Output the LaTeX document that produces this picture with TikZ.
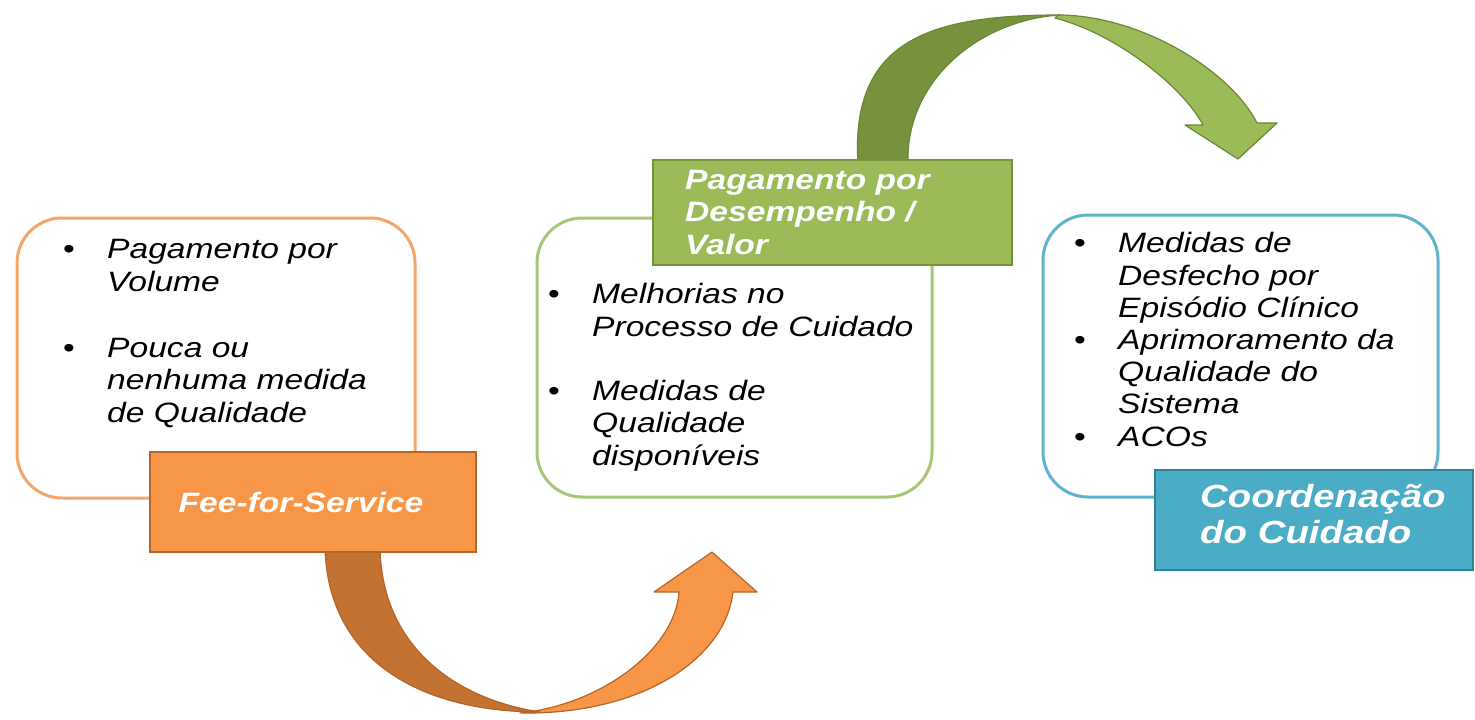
\documentclass[tikz,border=0pt]{standalone}
\usepackage{fontspec}
\newfontfamily\af[FakeStretch=1.2]{Liberation Sans}
\definecolor{olight}{HTML}{F79646}
\definecolor{odark}{HTML}{C47232}
\definecolor{oborder}{HTML}{B5652A}
\definecolor{ostroke}{HTML}{F3A56A}
\definecolor{glight}{HTML}{9BBB59}
\definecolor{gdark}{HTML}{76923C}
\definecolor{gborder}{HTML}{6A8733}
\definecolor{gstroke}{HTML}{A8C675}
\definecolor{blight}{HTML}{4BACC6}
\definecolor{bborder}{HTML}{2F849C}
\definecolor{bstroke}{HTML}{61B3CB}
\newcommand{\bl}[1]{\makebox[44pt][l]{\upshape •}#1}
\newcommand{\ind}{\hspace*{44pt}}
\tikzset{
  rbox/.style={draw, line width=3pt, rounded corners=45pt, fill=white, inner sep=0pt},
  lab/.style={draw, line width=2pt, inner sep=0pt},
  body/.style={anchor=base west, inner sep=0pt, align=left, text=black,
    font=\af\itshape\fontsize{28}{32.3}\selectfont},
  head/.style={inner sep=0pt, text=white, font=\af\bfseries\itshape\fontsize{28}{32.5}\selectfont},
  ribbon/.style={line width=1.2pt, line join=round}
}
\begin{document}
\begin{tikzpicture}[x=1pt,y=-1pt]
\useasboundingbox[fill=white] (0,0) rectangle (1475,720);
% orange arrow
\fill[olight, draw=oborder, ribbon] (520,713) .. controls (640,715) and (725,660) .. (733,592)
  -- (757,592) -- (712,552) -- (654,592) -- (679,592)
  .. controls (675,650) and (600,705) .. (520,713) -- cycle;
\fill[odark, draw=oborder, ribbon] (325,548) .. controls (328,660) and (420,712) .. (540,712)
  .. controls (460,700) and (382,650) .. (380,548) -- cycle;
% green arrow
\fill[glight, draw=gborder, ribbon] (1058,15) .. controls (1140,15) and (1230,70) .. (1257,123)
  -- (1277,123) -- (1238,159) -- (1185,125) -- (1203,125)
  .. controls (1185,90) and (1120,35) .. (1055,18) -- cycle;
\fill[gdark, draw=gborder, ribbon] (858,164) .. controls (850,40) and (930,15) .. (1060,15)
  .. controls (980,20) and (905,80) .. (908,164) -- cycle;
% rounded boxes
\node[rbox, draw=ostroke, minimum width=398pt, minimum height=280pt] (vol) at (216,358) {};
\node[rbox, draw=gstroke, minimum width=395pt, minimum height=279pt] (des) at (734.5,357.5) {};
\node[rbox, draw=bstroke, minimum width=395pt, minimum height=282pt] (coo) at (1240.5,356) {};
% labels
\node[lab, fill=olight, draw=oborder, minimum width=326pt, minimum height=100pt] (fee) at (313,502) {};
\node[lab, fill=glight, draw=gdark, minimum width=359pt, minimum height=105pt] (pag) at (832.5,212.5) {};
\node[lab, fill=blight, draw=bborder, minimum width=318pt, minimum height=100pt] (cc) at (1314,520) {};
\node[head, anchor=base] (feet) at (301,512) {Fee-for-Service};
\node[head, anchor=base west, align=left] (pagt) at (685,254) {Pagamento por\\Desempenho /\\Valor};
\node[head, anchor=base west, align=left, font=\af\bfseries\itshape\fontsize{32}{36}\selectfont] (cct) at (1200,543) {Coordenação\\do Cuidado};
% body texts (anchored at the baseline of the last line)
\node[body] (volt) at (63,422) {\bl{Pagamento por}\\\ind Volume\\[34pt]\bl{Pouca ou}\\\ind nenhuma medida\\\ind de Qualidade};
\node[body] (dest) at (548,465) {\bl{Melhorias no}\\\ind Processo de Cuidado\\[32pt]\bl{Medidas de}\\\ind Qualidade\\\ind disponíveis};
\node[body, font=\af\itshape\fontsize{28}{32.2}\selectfont] (coot) at (1074,446) {\bl{Medidas de}\\\ind Desfecho por\\\ind Episódio Clínico\\\bl{Aprimoramento da}\\\ind Qualidade do\\\ind Sistema\\\bl{ACOs}};
\end{tikzpicture}
\end{document}
